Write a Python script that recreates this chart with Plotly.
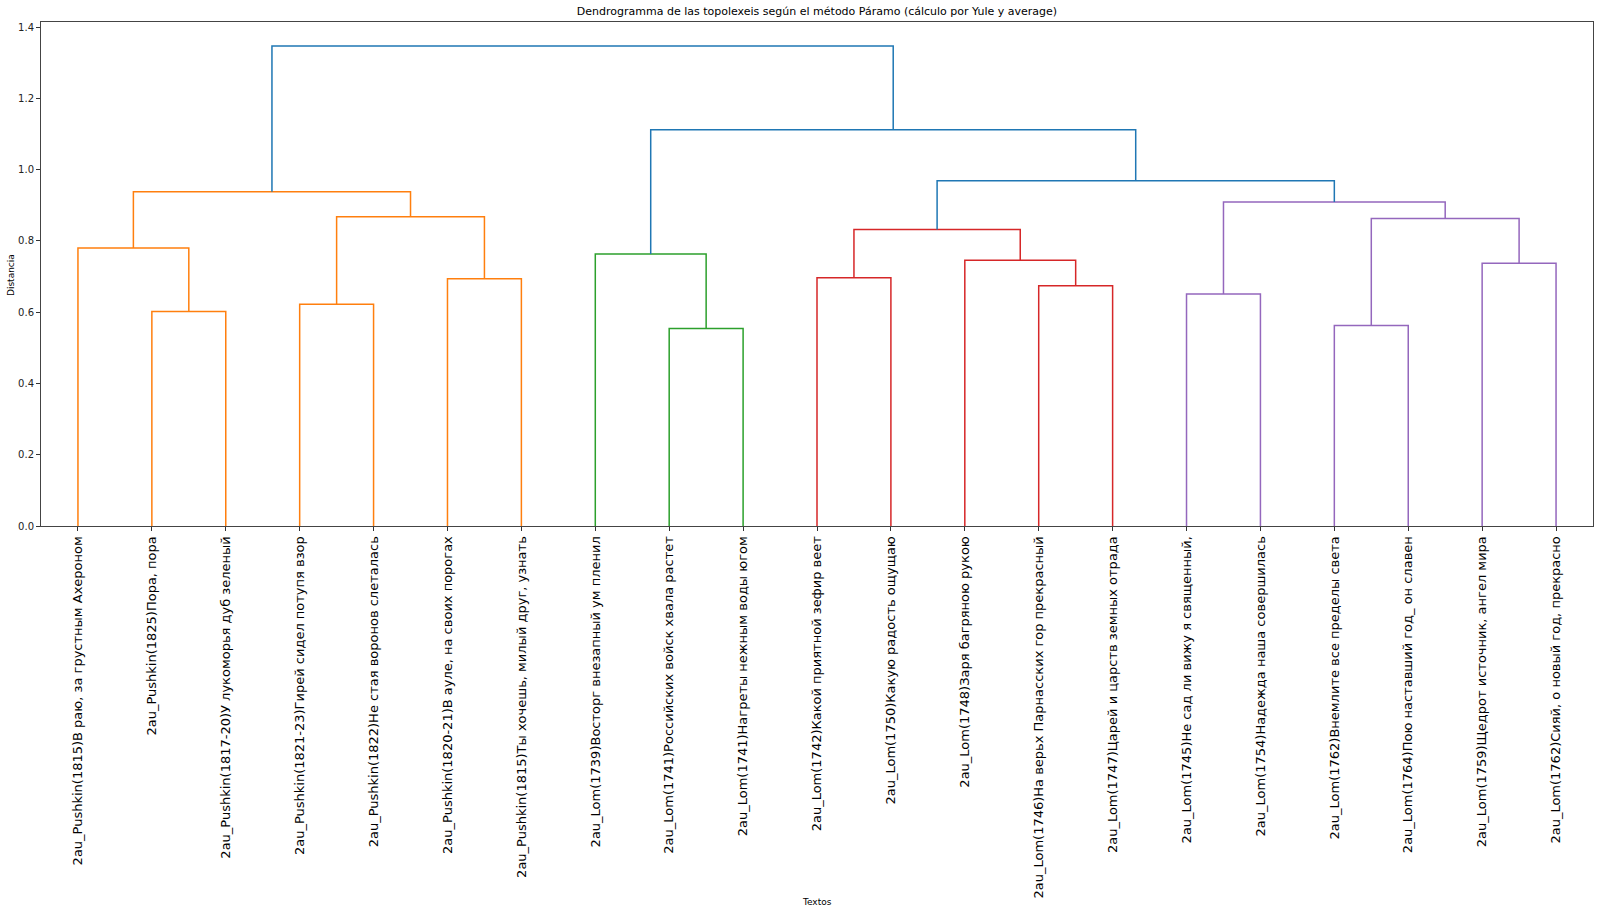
import plotly.graph_objects as go

# leaves, in the order they appear along the axis
labels = [
    "2au_Pushkin(1815)В раю, за грустным Ахероном",
    "2au_Pushkin(1825)Пора, пора",
    "2au_Pushkin(1817-20)У лукоморья дуб зеленый",
    "2au_Pushkin(1821-23)Гирей сидел потупя взор",
    "2au_Pushkin(1822)Не стая воронов слеталась",
    "2au_Pushkin(1820-21)В ауле, на своих порогах",
    "2au_Pushkin(1815)Ты хочешь, милый друг, узнать",
    "2au_Lom(1739)Восторг внезапный ум пленил",
    "2au_Lom(1741)Российских войск хвала растет",
    "2au_Lom(1741)Нагреты нежным воды югом",
    "2au_Lom(1742)Какой приятной зефир веет",
    "2au_Lom(1750)Какую радость ощущаю",
    "2au_Lom(1748)Заря багряною рукою",
    "2au_Lom(1746)На верьх Парнасских гор прекрасный",
    "2au_Lom(1747)Царей и царств земных отрада",
    "2au_Lom(1745)Не сад ли вижу я священный,",
    "2au_Lom(1754)Надежда наша совершилась",
    "2au_Lom(1762)Внемлите все пределы света",
    "2au_Lom(1764)Пою наставший год_ он славен",
    "2au_Lom(1759)Щедрот источник, ангел мира",
    "2au_Lom(1762)Сияй, о новый год, прекрасно",
]

# merges: ids 0..20 are leaves, each merge makes a new id (21, 22, ...)
merge_left = [1, 0, 3, 5, 23, 22, 8, 7, 10, 13, 12, 29, 15, 17, 19, 34, 33, 32, 28, 26]
merge_right = [2, 21, 4, 6, 24, 25, 9, 27, 11, 14, 30, 31, 16, 18, 20, 35, 36, 37, 38, 39]
merge_height = [0.602, 0.780, 0.622, 0.694, 0.868, 0.938,
                0.554, 0.763,
                0.697, 0.674, 0.746, 0.832,
                0.651, 0.563, 0.737, 0.863, 0.909,
                0.969, 1.112, 1.347]
merge_group = ["C1"] * 6 + ["C2"] * 2 + ["C3"] * 4 + ["C4"] * 5 + ["C0"] * 3

colours = {"C0": "#1f77b4", "C1": "#ff7f0e", "C2": "#2ca02c",
           "C3": "#d62728", "C4": "#9467bd"}

# position and height of every node
pos = {i: 5 + 10 * i for i in range(len(labels))}
hgt = {i: 0.0 for i in range(len(labels))}

segs = {k: ([], []) for k in colours}
for n, (a, b, h, c) in enumerate(zip(merge_left, merge_right, merge_height, merge_group)):
    node = len(labels) + n
    xs, ys = segs[c]
    xs += [pos[a], pos[a], pos[b], pos[b], None]
    ys += [hgt[a], h, h, hgt[b], None]
    pos[node] = (pos[a] + pos[b]) / 2
    hgt[node] = h

fig = go.Figure()
for c in ["C1", "C2", "C3", "C4", "C0"]:
    xs, ys = segs[c]
    fig.add_trace(go.Scatter(x=xs, y=ys, mode="lines",
                             line=dict(color=colours[c], width=1.5),
                             hoverinfo="skip", showlegend=False))

top = max(merge_height) * 1.05

fig.update_layout(
    width=1600, height=914,
    margin=dict(l=41, r=7, t=22, b=388),
    paper_bgcolor="white", plot_bgcolor="white",
    font=dict(family="DejaVu Sans", color="black"),
    title=dict(text="Dendrogramma de las topolexeis según el método Páramo (cálculo por Yule y average)",
               xref="paper", x=0.5, xanchor="center",
               yref="container", y=1 - 11 / 914, yanchor="middle",
               font=dict(size=11)),
)
fig.update_xaxes(range=[0, 10 * len(labels)], tickvals=[pos[i] for i in range(len(labels))],
                 ticktext=labels, tickangle=-90, tickfont=dict(size=13),
                 ticks="outside", ticklen=4, tickcolor="#333",
                 showline=True, linecolor="#444", linewidth=1, mirror=True,
                 showgrid=False, zeroline=False, automargin=False)
fig.update_yaxes(range=[0, top], tickvals=[0, 0.2, 0.4, 0.6, 0.8, 1.0, 1.2, 1.4],
                 tickformat=".1f", tickfont=dict(size=10, color="#222"),
                 ticks="outside", ticklen=4, tickcolor="#333",
                 showline=True, linecolor="#444", linewidth=1, mirror=True,
                 showgrid=False, zeroline=False, automargin=False)

fig.add_annotation(text="Distancia", xref="paper", yref="paper",
                   x=-30 / 1552, y=0.498, xanchor="center", yanchor="middle",
                   textangle=-90, showarrow=False, font=dict(size=9))
fig.add_annotation(text="Textos", xref="paper", yref="paper",
                   x=0.5, y=-(902 - 526) / 504, xanchor="center", yanchor="middle",
                   showarrow=False, font=dict(size=9))

# drop the browser's default body margin so the figure sits at the page corner
fig.write_html("out.html", config={"displayModeBar": False},
               post_script="document.body.style.margin='0';")
